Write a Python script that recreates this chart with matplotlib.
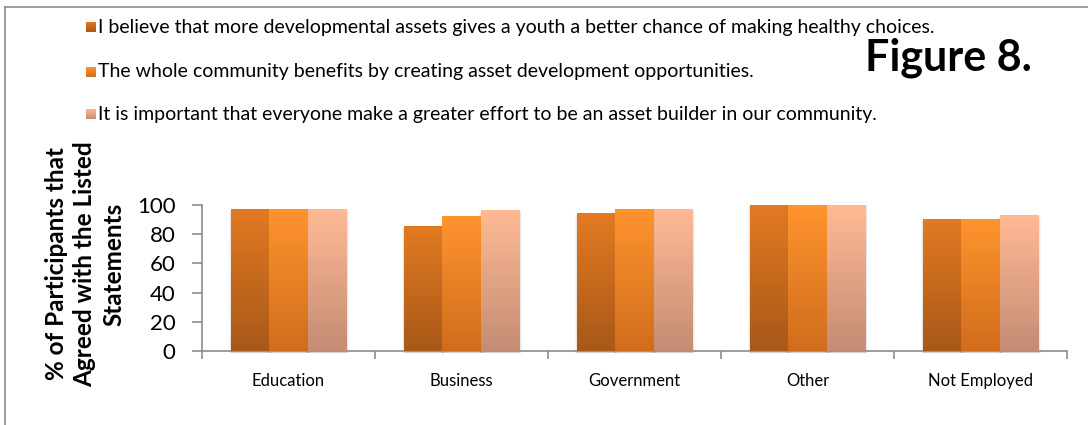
import numpy as np
import matplotlib
matplotlib.use("Agg")
import matplotlib.pyplot as plt
from matplotlib.colors import LinearSegmentedColormap
from matplotlib.patches import Rectangle
from matplotlib.lines import Line2D

plt.rcParams['font.family'] = ['Lato', 'DejaVu Sans']

categories = ["Education", "Business", "Government", "Other", "Not Employed"]
series_labels = [
    "I believe that more developmental assets gives a youth a better chance of making healthy choices.",
    "The whole community benefits by creating asset development opportunities.",
    "It is important that everyone make a greater effort to be an asset builder in our community.",
]
healthy_choices = [97, 85, 94, 100, 90]
community_benefits = [97, 92, 97, 100, 90]
asset_builder = [97, 96, 97, 100, 93]
y_ticks = [0, 20, 40, 60, 80, 100]

series = [healthy_choices, community_benefits, asset_builder]
# (bottom colour, top colour) of each series gradient
gradients = [("#A85818", "#E27A22"), ("#D06C1C", "#FF942E"), ("#C48C74", "#FFBA94")]

W, H = 1088, 425
fig = plt.figure(figsize=(W / 100, H / 100), dpi=100)

# outer frame
frame_kw = dict(color="#8c8c8c", lw=1.2, transform=fig.transFigure)
fig.add_artist(Line2D([5 / W, 5 / W], [0, 1 - 7 / H], **frame_kw))
fig.add_artist(Line2D([5 / W, 1], [1 - 7 / H, 1 - 7 / H], **frame_kw))

ax = fig.add_axes([202 / W, 1 - 351 / H, 865 / W, 146 / H])
grad = np.linspace(0, 1, 256).reshape(-1, 1)

n = len(series)
width = 0.667 / n
x = np.arange(len(categories))
for k, vals in enumerate(series):
    cmap = LinearSegmentedColormap.from_list(f"s{k}", list(gradients[k]))
    pos = x + (k - (n - 1) / 2) * width
    bars = ax.bar(pos, vals, width, color=gradients[k][1], zorder=3, linewidth=0)
    for b in bars:
        x0, w, h = b.get_x(), b.get_width(), b.get_height()
        ax.imshow(grad, cmap=cmap, origin="lower", aspect="auto",
                  extent=[x0, x0 + w, 0, h], zorder=4, interpolation="bilinear")
        # faint drop shadow
        for m, a in zip([0.003, 0.007, 0.012], [0.10, 0.06, 0.03]):
            ax.add_patch(Rectangle((x0 + 0.004 - m, -1.2 - m * 30), w + 2 * m,
                                   h + 0.2 + m * 30, color="black", alpha=a,
                                   lw=0, zorder=2, clip_on=False))

ax.set_xlim(-0.5, len(categories) - 0.5)
ax.set_ylim(0, 100)
ax.set_yticks(y_ticks)
ax.set_yticklabels([str(t) for t in y_ticks], fontsize=16)
ax.set_xticks(x)
ax.set_xticklabels(categories, fontsize=12)
ax.set_xticks(np.arange(len(categories) + 1) - 0.5, minor=True)
ax.tick_params(axis="x", which="major", length=0, pad=16)
ax.tick_params(axis="x", which="minor", length=6, color="#8c8c8c", width=1.2)
ax.tick_params(axis="y", length=7, color="#8c8c8c", width=1.2, pad=12)
for side in ("top", "right"):
    ax.spines[side].set_visible(False)
for side in ("left", "bottom"):
    ax.spines[side].set_color("#8c8c8c")
    ax.spines[side].set_linewidth(1.2)
ax.set_facecolor("none")

fig.text(85 / W, 1 - 264 / H, "% of Participants that\nAgreed with the Listed\nStatements",
         rotation=90, ha="center", va="center", fontsize=17.5, fontweight="bold",
         linespacing=1.3, multialignment="center")

# legend rows
row_y = [27, 72, 114]
for k, (lbl, yy) in enumerate(zip(series_labels, row_y)):
    lax = fig.add_axes([86 / W, 1 - (yy + 5) / H, 10 / W, 10 / H])
    cmap = LinearSegmentedColormap.from_list(f"l{k}", list(gradients[k]))
    lax.imshow(grad, cmap=cmap, origin="lower", aspect="auto", extent=[0, 1, 0, 1])
    lax.axis("off")
    fig.text(98 / W, 1 - yy / H, lbl, ha="left", va="center", fontsize=14)

fig.text(948 / W, 1 - 58 / H, "Figure 8.", ha="center", va="center",
         fontsize=31, fontweight="bold")

fig.savefig("out.png", dpi=100, facecolor="white")
